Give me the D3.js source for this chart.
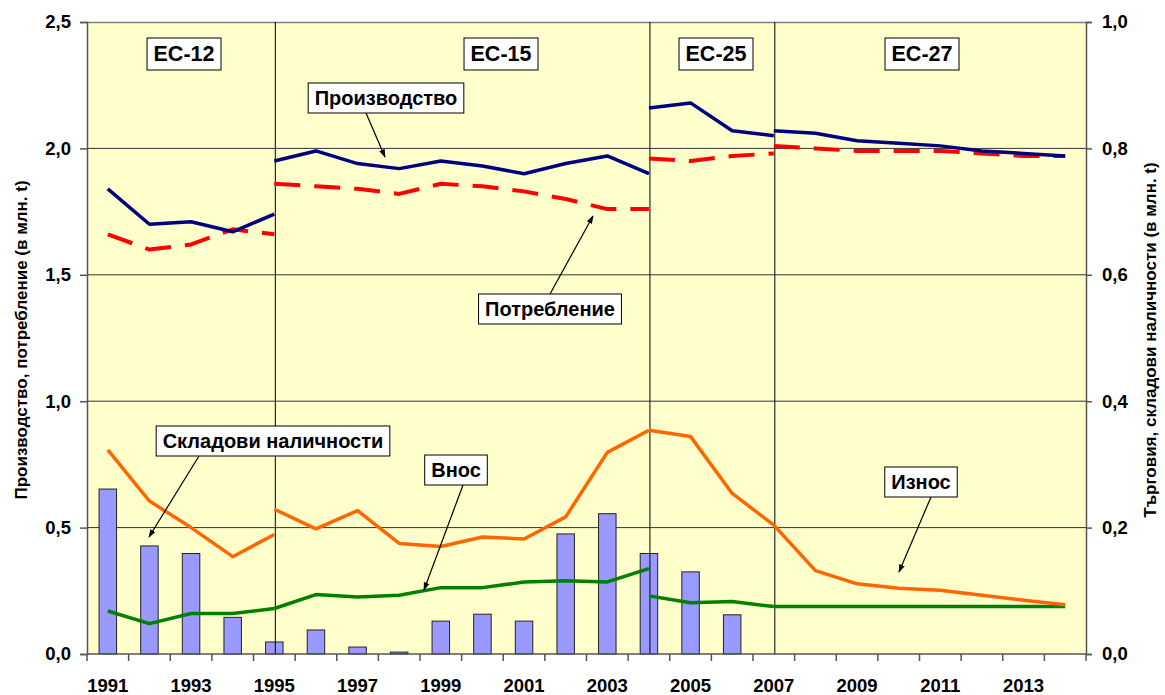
<!DOCTYPE html>
<html>
<head>
<meta charset="utf-8">
<script src="https://cdn.jsdelivr.net/npm/d3@7"></script>
<style>
  body { margin: 0; background: #fff; }
  svg text { font-family: "Liberation Sans", Arial, sans-serif; font-weight: bold; }
</style>
</head>
<body>
<svg id="chart" width="1165" height="695"></svg>
<script>
// categories
const years = ["1991","1992","1993","1994","1995","1996","1997","1998","1999","2000","2001","2002",
               "2003","2004","2005","2006","2007","2008","2009","2010","2011","2012","2013","2014"];
const yearLabels = ["1991","1993","1995","1997","1999","2001","2003","2005","2007","2009","2011","2013"];

// left axis series (million t), one array per EU period, null = no value
const prodEC12 = [1.84,1.70,1.71,1.67,1.74,null,null,null,null,null,null,null,null,null,null,null,null,null,null,null,null,null,null,null];
const prodEC15 = [null,null,null,null,1.95,1.99,1.94,1.92,1.95,1.93,1.90,1.94,1.97,1.90,null,null,null,null,null,null,null,null,null,null];
const prodEC25 = [null,null,null,null,null,null,null,null,null,null,null,null,null,2.16,2.18,2.07,2.05,null,null,null,null,null,null,null];
const prodEC27 = [null,null,null,null,null,null,null,null,null,null,null,null,null,null,null,null,2.07,2.06,2.03,2.02,2.01,1.99,1.98,1.97];

const consEC12 = [1.66,1.60,1.62,1.68,1.66,null,null,null,null,null,null,null,null,null,null,null,null,null,null,null,null,null,null,null];
const consEC15 = [null,null,null,null,1.86,1.85,1.84,1.82,1.86,1.85,1.83,1.80,1.76,1.76,null,null,null,null,null,null,null,null,null,null];
const consEC25 = [null,null,null,null,null,null,null,null,null,null,null,null,null,1.96,1.95,1.97,1.98,null,null,null,null,null,null,null];
const consEC27 = [null,null,null,null,null,null,null,null,null,null,null,null,null,null,null,null,2.01,2.00,1.99,1.99,1.99,1.98,1.97,1.97];

// right axis series (million t)
const stocks = [0.261,0.171,0.159,0.058,0.019,0.038,0.011,0.003,0.052,0.063,0.052,0.190,0.222,0.159,0.130,0.062,null,null,null,null,null,null,null,null];

const exportEC12 = [0.323,0.242,0.200,0.154,0.189,null,null,null,null,null,null,null,null,null,null,null,null,null,null,null,null,null,null,null];
const exportEC15 = [null,null,null,null,0.229,0.198,0.227,0.175,0.170,0.185,0.182,0.217,0.319,0.354,null,null,null,null,null,null,null,null,null,null];
const exportEC25 = [null,null,null,null,null,null,null,null,null,null,null,null,null,0.354,0.344,0.254,0.204,null,null,null,null,null,null,null];
const exportEC27 = [null,null,null,null,null,null,null,null,null,null,null,null,null,null,null,null,0.204,0.132,0.111,0.104,0.101,0.093,0.085,0.078];

const importEC12 = [0.068,0.048,0.064,0.064,0.072,null,null,null,null,null,null,null,null,null,null,null,null,null,null,null,null,null,null,null];
const importEC15 = [null,null,null,null,0.072,0.094,0.090,0.093,0.105,0.105,0.114,0.116,0.114,0.135,null,null,null,null,null,null,null,null,null,null];
const importEC25 = [null,null,null,null,null,null,null,null,null,null,null,null,null,0.092,0.081,0.083,0.075,null,null,null,null,null,null,null];
const importEC27 = [null,null,null,null,null,null,null,null,null,null,null,null,null,null,null,null,0.075,0.075,0.075,0.075,0.075,0.075,0.075,0.075];

const leftTicks = [0,0.5,1.0,1.5,2.0,2.5];
const rightTicks = [0,0.2,0.4,0.6,0.8,1.0];

const periods = ["ЕС-12", "ЕС-15", "ЕС-25", "ЕС-27"];
const dividers = ["1995", "2004", "2007"];

const svg = d3.select("#chart");
const margin = { top: 22, right: 79, bottom: 41, left: 87 };
const width = 1165, height = 695;
const plotW = width - margin.left - margin.right;
const plotH = height - margin.top - margin.bottom;

const x = d3.scaleBand().domain(years).range([margin.left, margin.left + plotW]);
const cx = d => x(d) + x.bandwidth() / 2;
const yL = d3.scaleLinear().domain([0, 2.5]).range([margin.top + plotH, margin.top]);
const yR = d3.scaleLinear().domain([0, 1.0]).range([margin.top + plotH, margin.top]);
const comma = d => d3.format(".1f")(d).replace(".", ",");

// plot background
svg.append("rect")
  .attr("x", margin.left).attr("y", margin.top)
  .attr("width", plotW).attr("height", plotH)
  .attr("fill", "#FFFFCC");

// gridlines
svg.append("g").selectAll("line")
  .data(leftTicks.slice(1, -1))
  .join("line")
  .attr("x1", margin.left).attr("x2", margin.left + plotW)
  .attr("y1", d => yL(d)).attr("y2", d => yL(d))
  .attr("stroke", "#333").attr("stroke-width", 1);
svg.append("line")
  .attr("x1", margin.left).attr("x2", margin.left + plotW)
  .attr("y1", margin.top + 0.5).attr("y2", margin.top + 0.5)
  .attr("stroke", "#808080").attr("stroke-width", 1.5);

// stocks bars
const barW = x.bandwidth() * 0.42;
svg.append("g").selectAll("rect")
  .data(years.map((yr, i) => ({ yr, v: stocks[i] })).filter(d => d.v != null))
  .join("rect")
  .attr("x", d => cx(d.yr) - barW / 2)
  .attr("y", d => yR(d.v))
  .attr("width", barW)
  .attr("height", d => yR(0) - yR(d.v))
  .attr("fill", "#9999FF")
  .attr("stroke", "#222").attr("stroke-width", 1);

// period dividers
svg.append("g").selectAll("line")
  .data(dividers)
  .join("line")
  .attr("x1", d => cx(d) + 1).attr("x2", d => cx(d) + 1)
  .attr("y1", margin.top).attr("y2", margin.top + plotH)
  .attr("stroke", "#000").attr("stroke-width", 1);

// lines
function drawSeries(values, scale, color, w, dash) {
  const line = d3.line()
    .defined(d => d.v != null)
    .x(d => cx(d.yr))
    .y(d => scale(d.v));
  svg.append("path")
    .datum(years.map((yr, i) => ({ yr, v: values[i] })))
    .attr("d", line)
    .attr("fill", "none")
    .attr("stroke", color)
    .attr("stroke-width", w)
    .attr("stroke-dasharray", dash || null)
    .attr("stroke-linejoin", "round");
}
[importEC12, importEC15, importEC25, importEC27].forEach(s => drawSeries(s, yR, "#008000", 3.5));
[exportEC12, exportEC15, exportEC25, exportEC27].forEach(s => drawSeries(s, yR, "#FF6600", 3.5));
[consEC12, consEC15, consEC25, consEC27].forEach(s => drawSeries(s, yL, "#FF0000", 4, "26,14"));
[prodEC12, prodEC15, prodEC25, prodEC27].forEach(s => drawSeries(s, yL, "#000080", 3.5));

// axes
const leftAxis = svg.append("g")
  .attr("transform", `translate(${margin.left},0)`)
  .call(d3.axisLeft(yL).tickValues(leftTicks).tickFormat(comma).tickSize(7).tickPadding(9));
const rightAxis = svg.append("g")
  .attr("transform", `translate(${margin.left + plotW},0)`)
  .call(d3.axisRight(yR).tickValues(rightTicks).tickFormat(comma).tickSize(6).tickPadding(10));
const bottomAxis = svg.append("g")
  .attr("transform", `translate(0,${margin.top + plotH})`)
  .call(d3.axisBottom(x).tickValues(yearLabels).tickSize(0).tickPadding(25));
[leftAxis, rightAxis, bottomAxis].forEach(a => {
  a.select(".domain").attr("stroke", "#555").attr("stroke-width", 1.5);
  a.selectAll(".tick line").attr("stroke", "#555").attr("stroke-width", 1.5);
  a.selectAll("text").attr("font-size", 18.5).attr("fill", "#000")
    .style("font-family", "'Liberation Sans', Arial, sans-serif").style("font-weight", "bold");
});
bottomAxis.select(".domain").attr("d", `M${margin.left},0H${margin.left + plotW}`);

// category boundary ticks
svg.append("g").selectAll("line")
  .data(years.map(yr => x(yr)).concat([margin.left + plotW]))
  .join("line")
  .attr("x1", d => d).attr("x2", d => d)
  .attr("y1", margin.top + plotH).attr("y2", margin.top + plotH + 7)
  .attr("stroke", "#555").attr("stroke-width", 1.5);

// axis titles
svg.append("text")
  .attr("transform", "translate(23,340) rotate(-90)")
  .attr("text-anchor", "middle").attr("dominant-baseline", "middle")
  .attr("font-size", 17)
  .text("Производство, потребление (в млн. t)");
svg.append("text")
  .attr("transform", "translate(1152,340) rotate(-90)")
  .attr("text-anchor", "middle").attr("dominant-baseline", "middle")
  .attr("font-size", 17)
  .text("Търговия, складови наличности (в млн. t)");

// boxed labels
function boxLabel(text, xc, yc, size, padX, h) {
  const g = svg.append("g");
  const t = g.append("text")
    .attr("x", xc).attr("y", yc)
    .attr("text-anchor", "middle").attr("dominant-baseline", "central")
    .attr("font-size", size).text(text);
  const bb = t.node().getBBox();
  g.insert("rect", "text")
    .attr("x", bb.x - padX).attr("y", yc - h / 2)
    .attr("width", bb.width + padX * 2).attr("height", h)
    .attr("fill", "#fff").attr("stroke", "#000").attr("stroke-width", 1);
}
const periodX = [184, 501, 716, 922];
periods.forEach((p, i) => boxLabel(p, periodX[i], 54, 21.5, 6.5, 32));

// annotations with arrows
svg.append("defs").append("marker")
  .attr("id", "arrow").attr("viewBox", "0 0 10 10")
  .attr("refX", 9).attr("refY", 5)
  .attr("markerWidth", 7).attr("markerHeight", 7)
  .attr("orient", "auto")
  .append("path").attr("d", "M0,1.5L10,5L0,8.5Z").attr("fill", "#000");

const notes = [
  { text: "Производство", x: 386, y: 98, from: [366, 113], to: [385, 157] },
  { text: "Потребление", x: 550, y: 309, from: [550, 294], to: [593, 216] },
  { text: "Складови наличности", x: 273, y: 441, from: [199, 456], to: [149, 537] },
  { text: "Внос", x: 456, y: 470, from: [463, 485], to: [424, 590] },
  { text: "Износ", x: 921, y: 482, from: [931, 497], to: [899, 572] }
];
notes.forEach(n => {
  svg.append("line")
    .attr("x1", n.from[0]).attr("y1", n.from[1])
    .attr("x2", n.to[0]).attr("y2", n.to[1])
    .attr("stroke", "#000").attr("stroke-width", 1.2)
    .attr("marker-end", "url(#arrow)");
  boxLabel(n.text, n.x, n.y, 20, 6.5, 30);
});
</script>
</body>
</html>
